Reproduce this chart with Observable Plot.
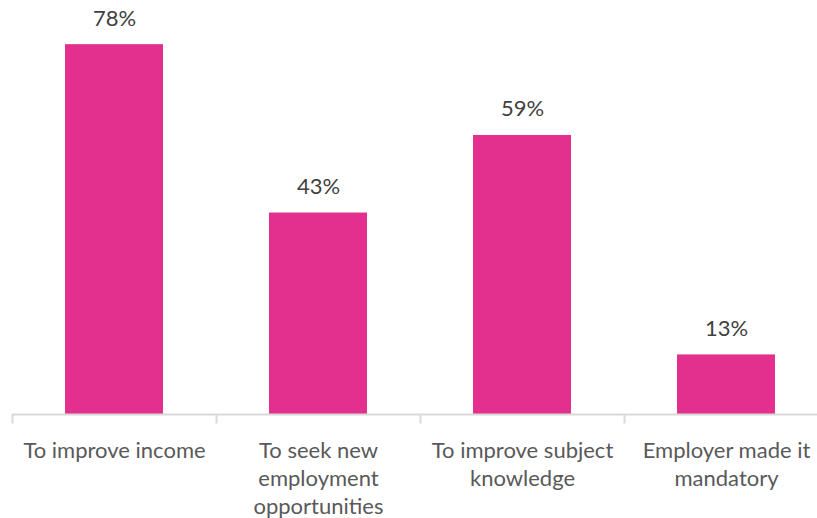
<!DOCTYPE html>
<html>
<head>
<meta charset="utf-8">
<script src="https://cdn.jsdelivr.net/npm/d3@7"></script>
<script src="https://cdn.jsdelivr.net/npm/@observablehq/plot@0.6"></script>
<style>
  html, body { margin: 0; padding: 0; background: #ffffff; }
  #chart svg { display: block; }
</style>
</head>
<body>
<div id="chart"></div>
<script>
const categories = [
  "To improve income",
  "To seek new\nemployment\nopportunities",
  "To improve subject\nknowledge",
  "Employer made it\nmandatory"
];
const values = [78.2, 42.6, 59.0, 12.6];
const valueLabels = ["78%", "43%", "59%", "13%"];

const data = categories.map((c, i) => ({cat: c, value: values[i], label: valueLabels[i]}));

const FONT = "Lato, 'Open Sans', sans-serif";

const chart = Plot.plot({
  width: 817,
  height: 518,
  marginTop: 12,
  marginBottom: 104,
  marginLeft: 12,
  marginRight: 0,
  style: {fontFamily: FONT, background: "#ffffff"},
  x: {domain: categories, range: [12, 828], paddingInner: 0.52, paddingOuter: 0.26, align: 0.5, axis: null},
  y: {domain: [0, 85], axis: null},
  marks: [
    Plot.barY(data, {x: "cat", y: "value", fill: "#e3308f"}),
    Plot.ruleY([0], {stroke: "#d9d9d9", strokeWidth: 2}),
    Plot.ruleX(data, {x: "cat", y1: 0, y2: -2, dx: -102, stroke: "#d9d9d9", strokeWidth: 2}),
    Plot.text(data, {x: "cat", y: "value", text: "label", lineAnchor: "bottom", dy: -19, fontSize: 22, fill: "#404040"}),
    Plot.text(data, {x: "cat", y: 0, text: "cat", lineAnchor: "top", dy: 24, fontSize: 22, lineHeight: 1.26, fill: "#595959"})
  ]
});
document.getElementById("chart").appendChild(chart);
</script>
</body>
</html>
